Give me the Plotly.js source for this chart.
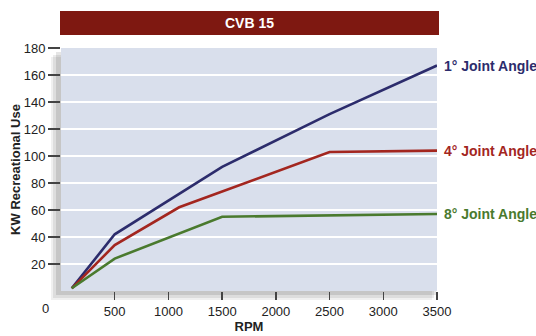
<!DOCTYPE html>
<html>
<head>
<meta charset="utf-8">
<script src="https://cdn.plot.ly/plotly-3.0.1.min.js"></script>
<style>html,body{margin:0;padding:0;background:#fff;}#chart{width:536px;height:336px;}</style>
</head>
<body>
<div id="chart"></div>
<script>
// Data
const rpm1 = [100, 500, 1500, 2500, 3500];
const kw1deg = [2, 42, 92, 131, 167];
const rpm4 = [100, 500, 1100, 2500, 3500];
const kw4deg = [2, 34, 62, 103, 104];
const rpm8 = [100, 500, 1500, 2500, 3500];
const kw8deg = [2, 24, 55, 56, 57];
const seriesNames = ["1° Joint Angle", "4° Joint Angle", "8° Joint Angle"];
const xTicks = [500, 1000, 1500, 2000, 2500, 3000, 3500];
const yTicks = [20, 40, 60, 80, 100, 120, 140, 160, 180];
const chartTitle = "CVB 15";

const colors = ["#2c2c6c", "#a3261f", "#4a7a2e"];
const W = 536, H = 336, L = 61, R = 99, T = 48, B = 45;
const pw = W - L - R, ph = H - T - B;
const px = v => (v - L) / pw;          // pixel x -> paper x
const py = v => (H - B - v) / ph;      // pixel y -> paper y
const FONT = 'Liberation Sans, Arial, sans-serif';

const xs = [rpm1, rpm4, rpm8];
const ys = [kw1deg, kw4deg, kw8deg];
const traces = seriesNames.map((n, i) => ({
  x: xs[i], y: ys[i], name: n, type: 'scatter', mode: 'lines',
  line: {color: colors[i], width: 2.6}, hoverinfo: 'skip'
}));

const shapes = [
  // soft drop shadow
  {type:'rect', xref:'paper', yref:'paper', x0:px(51), x1:px(432), y0:py(300), y1:py(57), fillcolor:'rgba(0,0,0,0.06)', line:{width:0}, layer:'below'},
  {type:'rect', xref:'paper', yref:'paper', x0:px(53), x1:px(434), y0:py(298), y1:py(55), fillcolor:'rgba(0,0,0,0.08)', line:{width:0}, layer:'below'},
  {type:'rect', xref:'paper', yref:'paper', x0:px(56), x1:px(436), y0:py(295), y1:py(52), fillcolor:'rgba(0,0,0,0.10)', line:{width:0}, layer:'below'},
  // plot background
  {type:'rect', xref:'paper', yref:'paper', x0:0, x1:1, y0:0, y1:1, fillcolor:'#d9dfec', line:{width:0}, layer:'below'},
  // title bar
  {type:'rect', xref:'paper', yref:'paper', x0:px(60), x1:px(439), y0:py(35), y1:py(11), fillcolor:'#7e1811', line:{width:0}}
];

const annotations = [
  {text: '<b>' + chartTitle + '</b>', xref:'paper', yref:'paper', x:px(249.5), y:py(23), showarrow:false,
   font:{family:FONT, size:14, color:'#ffffff'}, xanchor:'center', yanchor:'middle'},
  {text:'0', xref:'paper', yref:'paper', x:px(45), y:py(308), showarrow:false,
   font:{family:FONT, size:13, color:'#222'}, xanchor:'center', yanchor:'middle'}
];
seriesNames.forEach((n, i) => {
  annotations.push({text:'<b>' + n + '</b>', xref:'paper', yref:'y', x:px(442), y:ys[i][ys[i].length-1],
    showarrow:false, xanchor:'left', yanchor:'middle',
    font:{family:FONT, size:14, color:colors[i]}});
});

const layout = {
  width: W, height: H,
  margin: {l:L, r:R, t:T, b:B, pad:0},
  paper_bgcolor: '#ffffff',
  plot_bgcolor: 'rgba(0,0,0,0)',
  showlegend: false,
  font: {family:FONT, size:13, color:'#222'},
  xaxis: {
    range:[0, 3500], tickvals:xTicks, ticktext:xTicks.map(String),
    showgrid:false, zeroline:false, showline:false,
    ticks:'outside', ticklen:8, tickwidth:1.5, tickcolor:'#444',
    tickfont:{size:13, color:'#222'},
    title:{text:'<b>RPM</b>', font:{size:13, color:'#222'}, standoff:4}
  },
  yaxis: {
    range:[0, 180], tickvals:yTicks, ticktext:yTicks.map(String),
    showgrid:true, gridcolor:'#ffffff', gridwidth:1.5, zeroline:false, showline:false,
    ticks:'outside', ticklen:12, tickwidth:1.5, tickcolor:'#444',
    tickfont:{size:13, color:'#222'},
    title:{text:'<b>KW Recreational Use</b>', font:{size:13, color:'#222'}, standoff:0}
  },
  shapes: shapes,
  annotations: annotations
};

Plotly.newPlot('chart', traces, layout, {staticPlot:true, displayModeBar:false});
</script>
</body>
</html>
